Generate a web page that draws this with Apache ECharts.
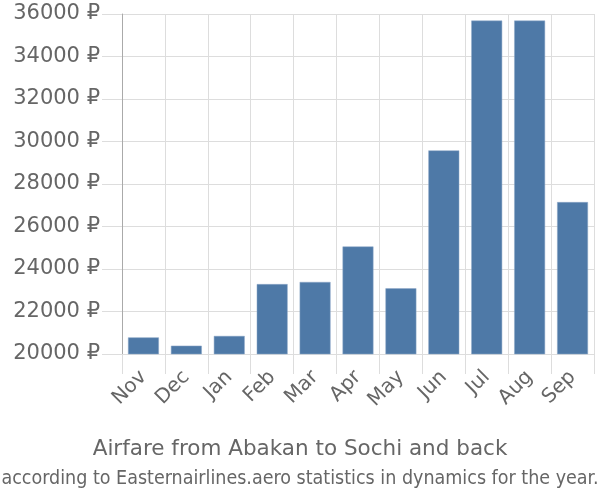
<!DOCTYPE html>
<html>
<head>
<meta charset="utf-8">
<script src="https://cdn.jsdelivr.net/npm/echarts@6/dist/echarts.min.js"></script>
<style>
  html, body { margin: 0; padding: 0; background: #fff; }
</style>
</head>
<body>
<div id="chart" style="width: 600px; height: 500px;"></div>
<script>
// months shown on the x axis
const months = ['Nov', 'Dec', 'Jan', 'Feb', 'Mar', 'Apr', 'May', 'Jun', 'Jul', 'Aug', 'Sep'];
// average airfare, roubles
const prices = [20780, 20390, 20850, 23290, 23390, 25060, 23090, 29580, 35690, 35690, 27150];

const titleText = 'Airfare from Abakan to Sochi and back';
const subtitleText = 'according to Easternairlines.aero statistics in dynamics for the year.';

const chart = echarts.init(document.getElementById('chart'));

const option = {
    animation: false,
    title: {
        text: titleText,
        subtext: subtitleText,
        left: 'center',
        top: 433,
        itemGap: 9,
        textStyle: {
            fontFamily: 'DejaVu Sans',
            fontSize: 21.5,
            fontWeight: 'normal',
            color: '#666'
        },
        subtextStyle: {
            fontFamily: "'DejaVu Sans Condensed', 'Liberation Sans'",
            fontSize: 19.5,
            color: '#666'
        }
    },
    grid: {
        left: 122,
        right: 6,
        top: 14,
        bottom: 146
    },
    xAxis: {
        type: 'category',
        data: months,
        boundaryGap: true,
        axisLine: { lineStyle: { color: '#ddd' } },
        axisTick: { show: true, length: 20, lineStyle: { color: '#ddd' } },
        splitLine: { show: true, lineStyle: { color: '#ddd', width: 1 } },
        axisLabel: {
            rotate: 45,
            interval: 0,
            margin: 20,
            fontFamily: 'DejaVu Sans',
            fontSize: 20,
            color: '#666'
        }
    },
    yAxis: {
        type: 'value',
        min: 20000,
        max: 36000,
        interval: 2000,
        axisLine: { show: true, lineStyle: { color: '#aaa' } },
        axisTick: { show: true, length: 20, lineStyle: { color: '#ddd' } },
        splitLine: { lineStyle: { color: '#ddd', width: 1 } },
        axisLabel: {
            margin: 22,
            formatter: function (v) { return v + ' ₽'; },
            fontFamily: 'DejaVu Sans',
            fontSize: 21,
            color: '#666'
        }
    },
    series: [
        {
            type: 'bar',
            data: prices,
            barCategoryGap: '28%',
            itemStyle: {
                color: '#4e79a7',
                borderColor: '#8fa9c8',
                borderWidth: 0.5
            }
        }
    ]
};

chart.setOption(option);
</script>
</body>
</html>
